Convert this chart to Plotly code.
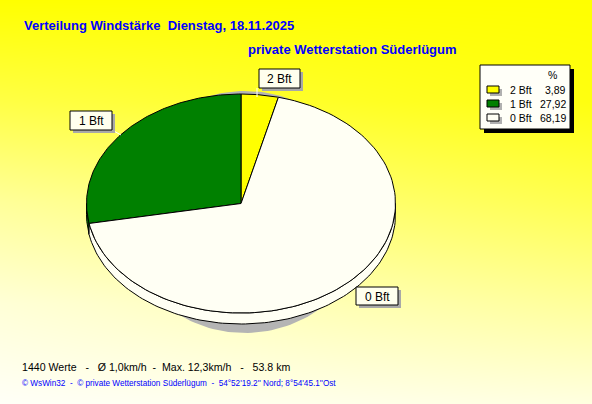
import numpy as np
import plotly.graph_objects as go

W, H = 592, 404

# ---- data ----
categories = ["2 Bft", "1 Bft", "0 Bft"]
percent = [3.89, 27.92, 68.19]
slice_colors = ["#ffff00", "#008000", "#fffff4"]

title_main = "Verteilung Windstärke  Dienstag, 18.11.2025"
title_sub = "private Wetterstation Süderlügum"
stats_line = "1440 Werte   -   Ø 1,0km/h  -  Max. 12,3km/h   -   53.8 km"
credit_line = "© WsWin32  -  © private Wetterstation Süderlügum  -  54°52'19.2'' Nord; 8°54'45.1''Ost"

# background shade (0 = yellow, 1 = white), rows top -> bottom
bg_rows = [0.0, 0.25, 0.5, 0.75, 1.0]
bg_left = [0.0, 0.27, 0.60, 0.84, 0.97]
bg_right = [0.0, 0.06, 0.31, 0.60, 0.88]

# ---- geometry (pixels) ----
CX, CY, A, B = 241.0, 203.5, 154.5, 109.5   # pie top ellipse
DEPTH = 11.0
SH_CX, SH_CY, SH_A, SH_B = 245.0, 212.0, 125.0, 121.0
FONT = "Liberation Sans"


def px(x):
    return x / W


def py(y):
    return 1 - y / H


fig = go.Figure()

# background gradient
fig.add_trace(go.Heatmap(
    x=[0, 1], y=bg_rows, z=[[l, r] for l, r in zip(bg_left, bg_right)],
    colorscale=[[0, "#ffff00"], [1, "#ffffff"]], zmin=0, zmax=1,
    zsmooth="best", showscale=False, hoverinfo="skip",
    xaxis="x", yaxis="y"))

# pie in unit-circle coordinates on stretched axes
d = DEPTH / B


def arc(t0, t1, n=120):
    t = np.radians(np.linspace(t0, t1, n))
    return -np.sin(t), np.cos(t)


# shadow
t = np.linspace(0, 2 * np.pi, 200)
fig.add_trace(go.Scatter(
    x=(SH_CX - CX) / A + SH_A / A * np.cos(t),
    y=-(SH_CY - CY) / B + SH_B / B * np.sin(t),
    mode="lines", fill="toself", fillcolor="#b4b4b4",
    line=dict(width=0, color="#b4b4b4"), hoverinfo="skip",
    xaxis="x2", yaxis="y2"))

start = -percent[0] * 3.6
cum = np.concatenate([[0], np.cumsum(percent)])
wedges = []
for i, p in enumerate(percent):
    t0 = start + cum[i] * 3.6
    t1 = start + cum[i + 1] * 3.6
    wedges.append((t0, t1))

# side bands (front half, 90..270 deg)
for (t0, t1), col in zip(wedges, slice_colors):
    for shift in (0, 360, -360):
        a0, a1 = max(t0 + shift, 90), min(t1 + shift, 270)
        if a1 > a0:
            xs, ys = arc(a0, a1)
            fig.add_trace(go.Scatter(
                x=np.concatenate([xs, xs[::-1], xs[:1]]),
                y=np.concatenate([ys, ys[::-1] - d, ys[:1]]),
                mode="lines", fill="toself", fillcolor=col,
                line=dict(width=1, color="black"), hoverinfo="skip",
                xaxis="x2", yaxis="y2"))

# top faces
for (t0, t1), col, name in zip(wedges, slice_colors, categories):
    xs, ys = arc(t0, t1)
    fig.add_trace(go.Scatter(
        x=np.concatenate([[0], xs, [0]]),
        y=np.concatenate([[0], ys, [0]]),
        mode="lines", fill="toself", fillcolor=col, name=name,
        line=dict(width=1, color="black"), hoverinfo="skip",
        xaxis="x2", yaxis="y2"))

shapes = []
annotations = []


def rect(x0, y0, x1, y1, fill, line="black", lw=1):
    shapes.append(dict(type="rect", xref="paper", yref="paper",
                       x0=px(x0), x1=px(x1), y0=py(y1), y1=py(y0),
                       fillcolor=fill, line=dict(color=line, width=lw),
                       layer="above"))


def text(x, y, s, size=11, color="black", anchor="left", weight=400):
    annotations.append(dict(xref="paper", yref="paper", x=px(x), y=py(y),
                            text=s, showarrow=False, xanchor=anchor,
                            yanchor="middle",
                            font=dict(family=FONT, size=size, color=color,
                                      weight=weight)))


# slice label boxes
label_boxes = [(259, 69, 300, 88), (70, 111, 112, 130), (356, 287, 398, 305)]
leaders = [((257, 88), (257, 97)), ((112, 130), (121, 135)), None]
for name, (x0, y0, x1, y1), ld in zip(categories, label_boxes, leaders):
    if ld:
        shapes.append(dict(type="line", xref="paper", yref="paper",
                           x0=px(ld[0][0]), y0=py(ld[0][1]),
                           x1=px(ld[1][0]), y1=py(ld[1][1]),
                           line=dict(color="white", width=1), layer="above"))
    rect(x0 + 3, y0 + 3, x1 + 3, y1 + 3, "#a8a8a8", line="#a8a8a8", lw=0)
    rect(x0, y0, x1, y1, "#ffffee")
    text((x0 + x1) / 2, (y0 + y1) / 2 + 0.5, name, size=12, anchor="center")

# legend box
rect(484, 69, 574, 133, "black", line="black", lw=0)
rect(480, 65, 570, 129, "#fffff8")
text(552, 75, "%", size=10.5, anchor="center")
row_y = [90, 104, 118]
for name, p, col, yy in zip(categories, percent, slice_colors, row_y):
    rect(490, yy - 1, 502, yy + 6, "#b0b0b0", line="#b0b0b0", lw=0)
    rect(487, yy - 4, 499, yy + 3, col)
    text(508, yy, name, size=10.5)
    text(568, yy, f"{p:.2f}".replace(".", ","), size=10.5, anchor="right")

# titles and footer
text(22, 25, title_main, size=13, color="#0000ff", weight=700)
text(246, 49, title_sub, size=13, color="#0000ff", weight=700)
text(20, 367, stats_line, size=10.6)
text(20, 383, credit_line, size=8.2, color="#0000ff")

fig.update_layout(
    width=W, height=H, margin=dict(l=0, r=0, t=0, b=0),
    paper_bgcolor="#ffff80", plot_bgcolor="rgba(0,0,0,0)",
    showlegend=False, shapes=shapes, annotations=annotations,
    xaxis=dict(range=[0, 1], visible=False, domain=[0, 1], fixedrange=True),
    yaxis=dict(range=[1, 0], visible=False, domain=[0, 1], fixedrange=True),
    xaxis2=dict(range=[(0 - CX) / A, (W - CX) / A], visible=False,
                overlaying="x", anchor="y2", fixedrange=True),
    yaxis2=dict(range=[-(H - CY) / B, CY / B], visible=False,
                overlaying="y", anchor="x2", fixedrange=True),
)

fig.write_html("out.html", config={"displayModeBar": False},
               post_script="document.body.style.margin='0';"
                           "document.body.style.overflow='hidden';")
